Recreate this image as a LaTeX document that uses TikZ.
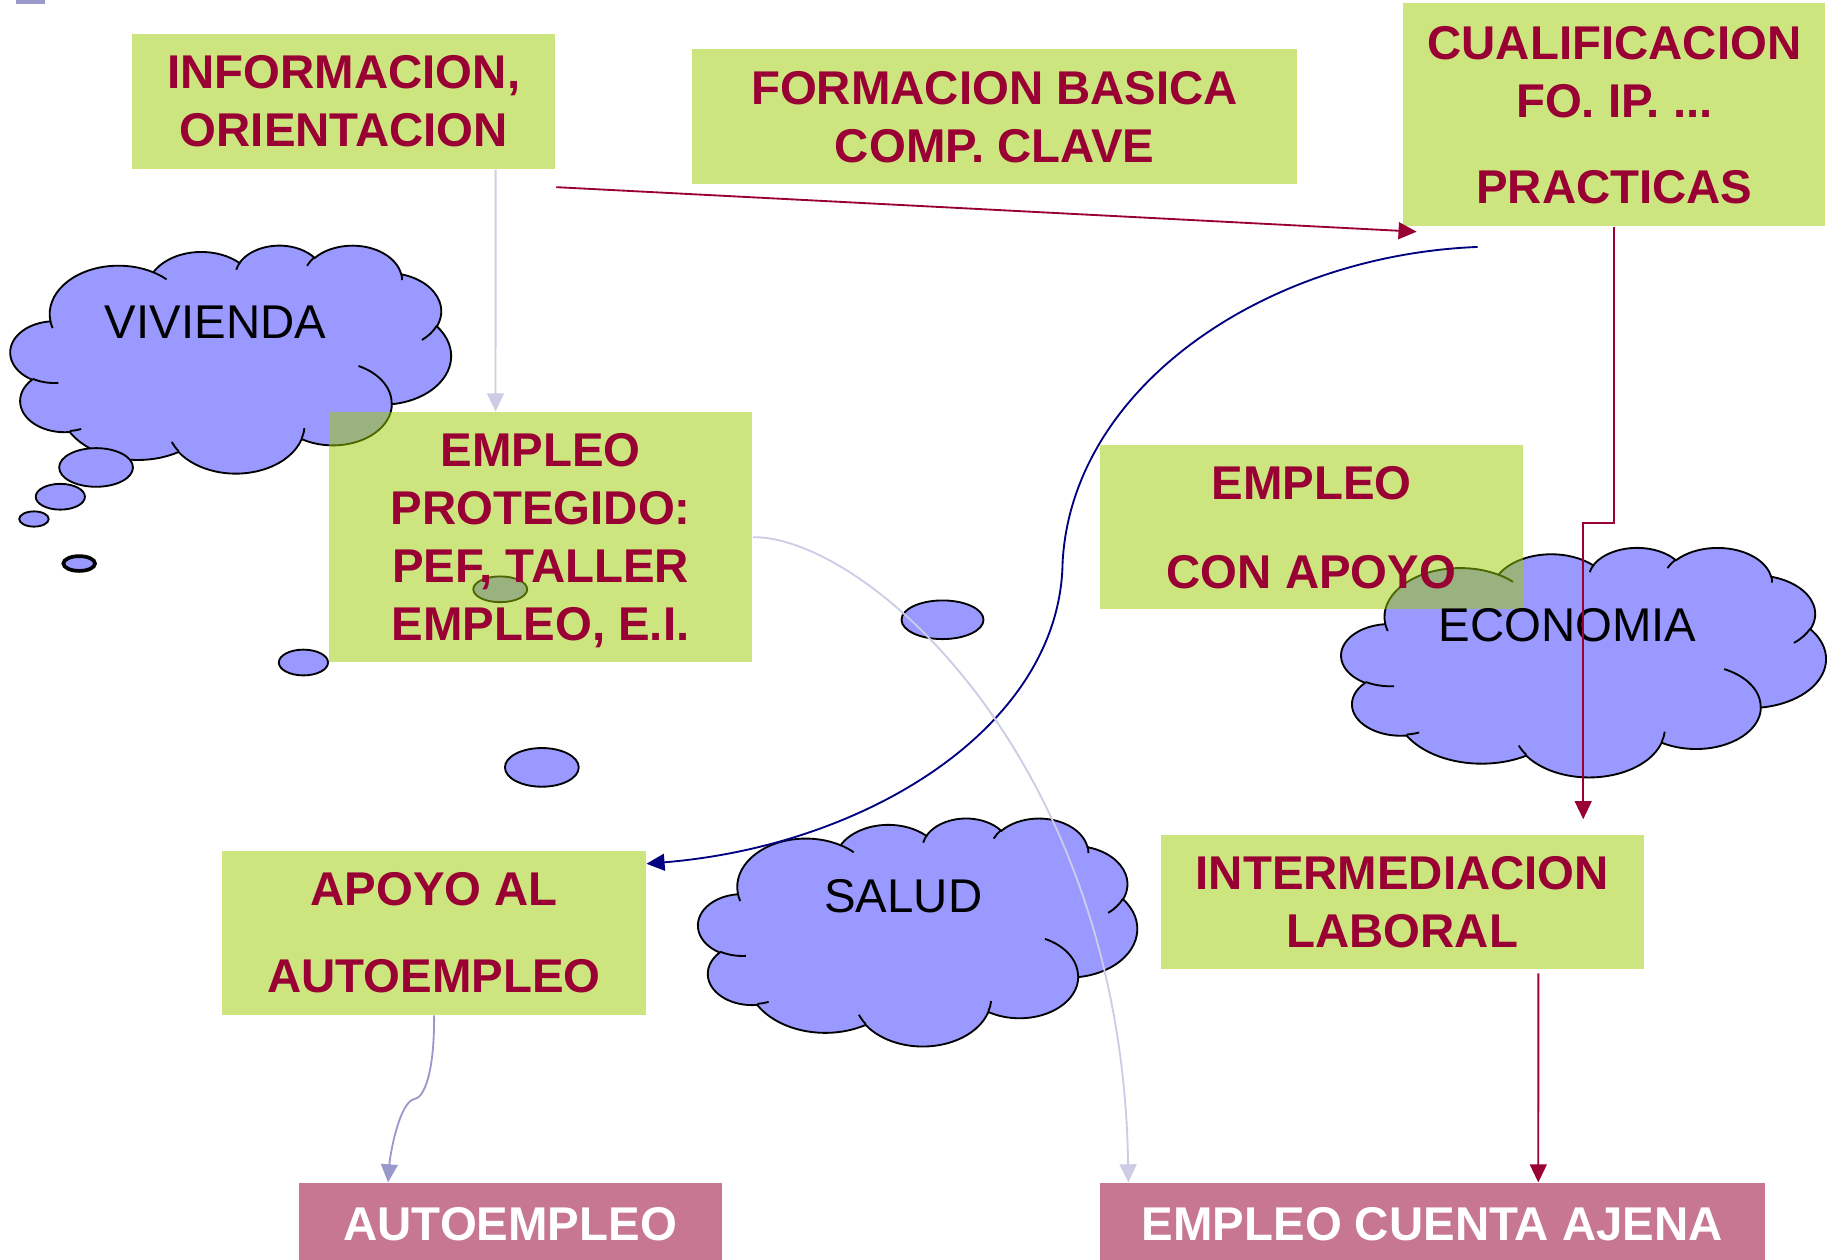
\documentclass[tikz,border=0pt]{standalone}
\usepackage{fontspec}
\setmainfont{Liberation Sans}
\usetikzlibrary{arrows.meta}
\definecolor{granate}{RGB}{153,0,51}
\definecolor{verde}{RGB}{153,204,0}
\definecolor{nube}{RGB}{153,153,255}
\definecolor{rosa}{RGB}{200,119,146}
\definecolor{marino}{RGB}{0,0,128}
\definecolor{lila}{RGB}{204,204,230}
\definecolor{malva}{RGB}{153,153,204}
% arc of a cloud puff, angles given as seen from the centre
\newcommand\nubearc[4]{%
  \pgfextra{%
    \pgfmathsetmacro\nubeS{atan2((#1)*sin(#3),(#2)*cos(#3))}%
    \pgfmathsetmacro\nubeE{atan2((#1)*sin((#3)+(#4)),(#2)*cos((#3)+(#4)))}%
    \pgfmathsetmacro\nubeD{(#4)+mod((\nubeE)-(\nubeS)-(#4)+900,360)-180}%
    \global\let\nubeS\nubeS\global\let\nubeD\nubeD}%
  arc[start angle=\nubeS,delta angle=\nubeD,x radius=#1,y radius=#2]}
% cloud: left, top, width, height
\newcommand\nube[4]{%
  \pgfmathsetmacro\nubex{#3/432*0.01}%
  \pgfmathsetmacro\nubey{#4/432*0.01}%
  \begin{scope}[shift={(#1,#2)},x=\nubex cm,y=-\nubey cm]
    \filldraw[nubeline,fill=nube] (39.00,143.70)
      \nubearc{67.53}{91.90}{-190.4875}{123.7805}
      \nubearc{53.33}{72.67}{-144.1024}{89.9452}
      \nubearc{43.65}{59.45}{-145.8079}{99.7230}
      \nubearc{48.57}{65.95}{-130.9861}{117.2417}
      \nubearc{53.33}{72.73}{-78.7089}{109.0269}
      \nubearc{67.75}{92.20}{-46.2673}{130.2690}
      \nubearc{57.85}{78.67}{0.6250}{114.0333}
      \nubearc{67.52}{92.15}{22.4516}{115.1726}
      \nubearc{77.20}{105.43}{66.2426}{75.7110}
      \nubearc{43.60}{59.18}{-274.9421}{146.7356}
      \nubearc{43.45}{59.45}{-246.8285}{152.5189} -- cycle;
    \draw[nubeline]
      (46.93,261.77) \nubearc{43.45}{59.45}{86.7420}{26.4295}
      (69.28,348.99) \nubearc{43.60}{59.18}{73.6105}{11.4475}
      (164.78,390.90) \nubearc{67.52}{92.15}{137.6242}{14.0811}
      (288.27,347.51) \nubearc{67.52}{92.15}{6.4533}{15.9984}
      (341.29,229.54) \nubearc{57.85}{78.67}{-70.2924}{70.9174}
      (417.98,153.54) \nubearc{53.33}{72.73}{30.3180}{27.7515}
      (383.24,54.26) \nubearc{48.57}{65.95}{-13.7443}{14.8589}
      (290.78,39.52) \nubearc{48.57}{65.95}{-149.1815}{18.1954}
      (221.41,47.20) \nubearc{43.65}{59.45}{-163.4943}{17.6864}
      (140.00,51.92) \nubearc{67.53}{91.90}{-66.7070}{12.3194}
      (41.27,157.89) \nubearc{67.53}{91.90}{157.6544}{11.8582};
  \end{scope}}
\begin{document}
\begin{tikzpicture}[x=0.01cm,y=-0.01cm,>={Triangle[length=4.4pt,width=4.1pt]},
  caja/.style={fill=verde,fill opacity=0.5,text opacity=1,text=granate,inner sep=0pt,
    font=\bfseries\fontsize{11.5}{14.1}\selectfont,align=center,text depth=0pt},
  salida/.style={fill=rosa,text=white,inner sep=0pt,minimum height=0.7cm,
    font=\bfseries\fontsize{11.5}{14.1}\selectfont},
  nubeline/.style={draw=black,line width=0.45pt},
  nubetext/.style={inner sep=0pt,font=\fontsize{11.5}{14.1}\selectfont},
  linea/.style={->,line width=0.45pt}]
\useasboundingbox (0,0) rectangle (1568,1075);
\fill[malva] (14,0) rectangle (38,3);
\nube{9}{209}{376}{195}
\nube{596}{698}{375}{195}
\nube{1145}{467}{414}{196}
\draw[nubeline,fill=nube] (82,399) ellipse[x radius=31.5,y radius=16.5];
\draw[nubeline,fill=nube] (51.5,424) ellipse[x radius=21,y radius=11];
\draw[nubeline,fill=nube] (29,443) ellipse[x radius=12.6,y radius=6.5];
\draw[nubeline,fill=nube,line width=0.9pt] (67.6,481) ellipse[x radius=13.5,y radius=6.3];
\draw[nubeline,fill=nube] (427,503) ellipse[x radius=23,y radius=11];
\draw[nubeline,fill=nube] (259,565.5) ellipse[x radius=21,y radius=11];
\draw[nubeline,fill=nube] (462.5,655) ellipse[x radius=31.5,y radius=16.5];
\draw[nubeline,fill=nube] (804.5,529) ellipse[x radius=35,y radius=16.5];
\node[caja,minimum width=3.61cm,minimum height=1.15cm] (info) at (293.5,86.5) {INFORMACION,\\ORIENTACION};
\node[caja,minimum width=5.16cm,minimum height=1.15cm] (formacion) at (849,99.5) {FORMACION BASICA\\COMP. CLAVE};
\node[caja,minimum width=3.60cm,minimum height=1.90cm] (cualif) at (1378,98) {CUALIFICACION\\FO. IP. ...\\[0.24cm]PRACTICAS};
\node[caja,minimum width=3.61cm,minimum height=2.13cm] (protegido) at (461.5,458.5) {EMPLEO\\PROTEGIDO:\\PEF, TALLER\\EMPLEO, E.I.};
\node[caja,minimum width=3.61cm,minimum height=1.40cm] (conapoyo) at (1119.5,450) {EMPLEO\\[0.26cm]CON APOYO};
\node[caja,minimum width=3.61cm,minimum height=1.40cm] (apoyoauto) at (370.5,796) {APOYO AL\\[0.24cm]AUTOEMPLEO};
\node[caja,minimum width=4.12cm,minimum height=1.14cm] (intermed) at (1197,770) {INTERMEDIACION\\LABORAL};
\node[salida,minimum width=3.61cm] (autoempleo) at (435.5,1045) {AUTOEMPLEO};
\node[salida,minimum width=5.67cm] (ajena) at (1222.5,1045) {EMPLEO CUENTA AJENA};
\node[nubetext] (vivienda) at (184,275) {VIVIENDA};
\node[nubetext] (salud) at (771,765) {SALUD};
\node[nubetext] (economia) at (1338,534) {ECONOMIA};
\draw[linea,granate] ([yshift=-0.15cm]info.south east) -- ([xshift=0.12cm,yshift=-0.04cm]cualif.south west);
\draw[linea,lila] ([xshift=1.295cm]info.south) -- ([xshift=-0.385cm]protegido.north);
\draw[linea,marino] ([xshift=0.64cm,yshift=-0.17cm]cualif.south west) .. controls (1080,218) and (915,330) .. (907,480)
  .. controls (905,620) and (740,722) .. ([yshift=-0.12cm]apoyoauto.north east);
\draw[linea,granate] (cualif.south) -- ++(0,253) -| ([xshift=3.61cm,yshift=0.13cm]intermed.north west);
\draw[linea,granate] ([xshift=1.16cm,yshift=-0.03cm]intermed.south) -- ([xshift=0.905cm]ajena.north);
\draw[linea,lila] (protegido.east) .. controls (740,458) and (958,650) .. ([xshift=0.25cm]ajena.north west);
\draw[linea,malva] (apoyoauto.south) .. controls (371,915) and (362,937) .. (354,938)
  .. controls (341,940) and (333,985) .. ([xshift=0.77cm]autoempleo.north west);
\end{tikzpicture}
\end{document}
